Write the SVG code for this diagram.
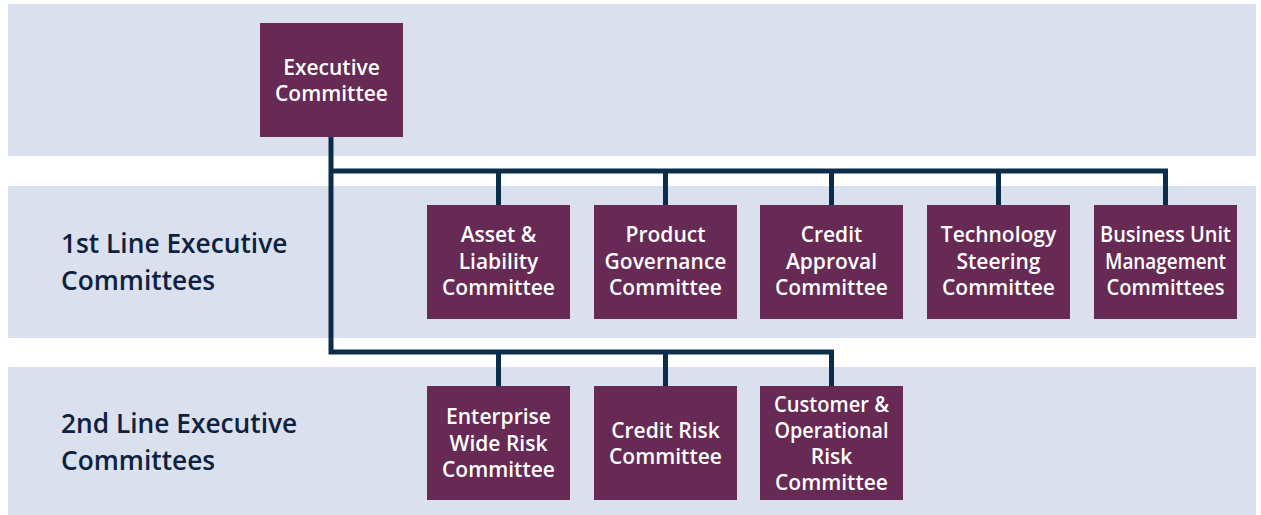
<svg xmlns="http://www.w3.org/2000/svg" width="1261" height="515" viewBox="0 0 1261 515">
  <style>
    .band { fill: #dae0ed; }
    .box { fill: #662a55; }
    .box-text { font-family: "Open Sans", "Noto Sans", "Liberation Sans", sans-serif; font-weight: 600; font-size: 21px; fill: #ffffff; text-anchor: middle; }
    .tier-label { font-family: "Open Sans", "Noto Sans", "Liberation Sans", sans-serif; font-weight: 600; font-size: 26.3px; fill: #0e2240; }
    .link { fill: none; stroke: #0b2d4a; stroke-width: 5; stroke-linejoin: miter; stroke-linecap: butt; }
  </style>
  <rect width="1261" height="515" fill="#ffffff"/>

  <!-- tier bands -->
  <g id="bands">
    <rect class="band" x="8" y="4" width="1248" height="152"/>
    <rect class="band" x="8" y="186" width="1248" height="152"/>
    <rect class="band" x="8" y="367" width="1248" height="148"/>
  </g>

  <!-- tier labels -->
  <g id="tier-labels">
    <text class="tier-label" x="61" y="253">1st Line Executive</text>
    <text class="tier-label" x="61" y="290">Committees</text>
    <text class="tier-label" x="61" y="433">2nd Line Executive</text>
    <text class="tier-label" x="61" y="470">Committees</text>
  </g>

  <!-- connectors -->
  <g id="connectors">
    <path class="link" d="M331,137 V352 H831.5 V386"/>
    <path class="link" d="M331,171 H1165.5 V205"/>
    <path class="link" d="M498.5,171 V205"/>
    <path class="link" d="M665.5,171 V205"/>
    <path class="link" d="M831.5,171 V205"/>
    <path class="link" d="M998.5,171 V205"/>
    <path class="link" d="M498.5,352 V386"/>
    <path class="link" d="M665.5,352 V386"/>
  </g>

  <!-- nodes -->
  <g id="executive-committee">
    <rect class="box" x="260" y="23" width="143" height="114"/>
    <text class="box-text" x="331.5" y="75">Executive</text>
    <text class="box-text" x="331.5" y="101">Committee</text>
  </g>

  <g id="asset-liability-committee">
    <rect class="box" x="427" y="205" width="143" height="114"/>
    <text class="box-text" x="498.5" y="242">Asset &amp;</text>
    <text class="box-text" x="498.5" y="268.5">Liability</text>
    <text class="box-text" x="498.5" y="295">Committee</text>
  </g>

  <g id="product-governance-committee">
    <rect class="box" x="594" y="205" width="143" height="114"/>
    <text class="box-text" x="665.5" y="242">Product</text>
    <text class="box-text" x="665.5" y="268.5">Governance</text>
    <text class="box-text" x="665.5" y="295">Committee</text>
  </g>

  <g id="credit-approval-committee">
    <rect class="box" x="760" y="205" width="143" height="114"/>
    <text class="box-text" x="831.5" y="242">Credit</text>
    <text class="box-text" x="831.5" y="268.5">Approval</text>
    <text class="box-text" x="831.5" y="295">Committee</text>
  </g>

  <g id="technology-steering-committee">
    <rect class="box" x="927" y="205" width="143" height="114"/>
    <text class="box-text" x="998.5" y="242">Technology</text>
    <text class="box-text" x="998.5" y="268.5">Steering</text>
    <text class="box-text" x="998.5" y="295">Committee</text>
  </g>

  <!-- long labels squeezed to stay inside the box -->
  <g id="business-unit-management-committees">
    <rect class="box" x="1094" y="205" width="143" height="114"/>
    <text class="box-text" x="1165.5" y="242" textLength="131" lengthAdjust="spacingAndGlyphs">Business Unit</text>
    <text class="box-text" x="1165.5" y="268.5" textLength="121" lengthAdjust="spacingAndGlyphs">Management</text>
    <text class="box-text" x="1165.5" y="295" textLength="118" lengthAdjust="spacingAndGlyphs">Committees</text>
  </g>

  <g id="enterprise-wide-risk-committee">
    <rect class="box" x="427" y="386" width="143" height="114"/>
    <text class="box-text" x="498.5" y="424">Enterprise</text>
    <text class="box-text" x="498.5" y="450.5">Wide Risk</text>
    <text class="box-text" x="498.5" y="477">Committee</text>
  </g>

  <g id="credit-risk-committee">
    <rect class="box" x="594" y="386" width="143" height="114"/>
    <text class="box-text" x="665.5" y="438">Credit Risk</text>
    <text class="box-text" x="665.5" y="464">Committee</text>
  </g>

  <g id="customer-operational-risk-committee">
    <rect class="box" x="760" y="386" width="143" height="114"/>
    <text class="box-text" x="831.5" y="411.5" textLength="115" lengthAdjust="spacingAndGlyphs">Customer &amp;</text>
    <text class="box-text" x="831.5" y="438" textLength="114" lengthAdjust="spacingAndGlyphs">Operational</text>
    <text class="box-text" x="831.5" y="463.5">Risk</text>
    <text class="box-text" x="831.5" y="490">Committee</text>
  </g>
</svg>
